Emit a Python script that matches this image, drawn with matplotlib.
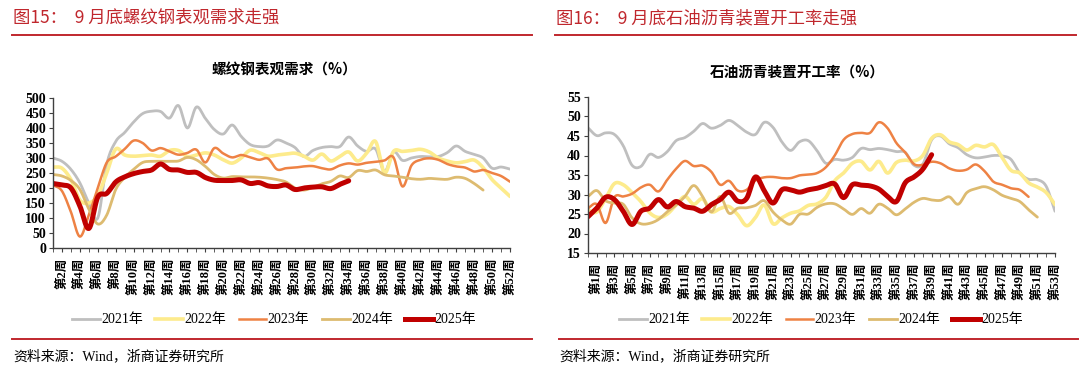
import numpy as np
import matplotlib
matplotlib.use("Agg")
import matplotlib.pyplot as plt
from matplotlib.lines import Line2D

plt.rcParams['font.family'] = ['Liberation Serif', 'Noto Sans CJK SC', 'DejaVu Sans']

# ---- left chart: rebar apparent demand, week 1..52
steel_weeks = list(range(1, 53))
steel_2021 = [300, 289, 262, 217, 150, 100, 280, 355, 385, 420, 448, 456, 455, 433, 475, 400,
              470, 432, 395, 380, 410, 372, 345, 338, 340, 360, 350, 335, 305, 325, 335, 338,
              338, 370, 340, 322, 330, 255, 320, 292, 300, 305, 304, 305, 318, 340, 322, 312,
              300, 266, 270, 263]
steel_2022 = [270, 266, 228, 160, 150, 175, 250, 330, 310, 306, 308, 310, 306, 325, 325, 305,
              310, 317, 310, 294, 283, 300, 326, 318, 306, 310, 313, 316, 306, 293, 313, 290,
              305, 320, 290, 316, 355, 250, 322, 322, 325, 329, 320, 300, 290, 284, 288, 293,
              268, 228, 200, 172]
steel_2023 = [210, 190, 120, 38, 110, 200, 285, 305, 330, 358, 350, 325, 333, 322, 311, 317,
              328, 285, 333, 315, 302, 310, 302, 294, 298, 262, 266, 268, 272, 273, 266, 262,
              275, 282, 278, 284, 287, 292, 302, 205, 275, 294, 299, 294, 280, 272, 268, 255,
              260, 250, 240, 221]
steel_2024 = [245, 240, 225, 195, 130, 80, 110, 195, 235, 262, 285, 289, 289, 289, 290, 302,
              294, 272, 245, 233, 238, 237, 237, 236, 233, 228, 220, 200, 193, 202, 214, 222,
              240, 235, 258, 255, 260, 244, 240, 236, 231, 229, 232, 230, 229, 236, 232, 215,
              193]
steel_2025 = [215, 210, 200, 140, 65, 170, 182, 220, 237, 248, 255, 260, 280, 262, 260, 252,
              252, 235, 226, 225, 225, 227, 215, 218, 207, 205, 210, 195, 200, 203, 204, 198,
              212, 224]

# ---- right chart: asphalt plant operating rate, axis positions 0..53
asphalt_weeks = list(range(0, 54))
asphalt_2021 = [47.1, 45.1, 45.8, 45.4, 42.5, 37.5, 37.2, 40.3, 39.5, 41.0, 43.8, 44.6, 46.2, 48.2,
                47.0, 47.7, 49.0, 47.7, 46.0, 45.4, 48.5, 47.2, 43.5, 41.3, 43.5, 43.8, 41.2, 38.0,
                39.0, 38.8, 39.5, 41.8, 41.5, 41.8, 41.5, 41.0, 40.8, 37.5, 37.8, 44.0, 45.0, 43.0,
                42.0, 40.2, 39.4, 39.6, 40.0, 39.9, 39.0, 35.5, 33.9, 33.8, 32.1, 25.7]
asphalt_2022 = [26.0, 25.5, 29.0, 32.8, 32.5, 30.5, 28.2, 25.3, 24.1, 25.0, 27.3, 29.5, 27.5, 28.9,
                25.6, 26.4, 26.9, 24.8, 22.0, 24.1, 27.3, 22.5, 24.0, 25.2, 25.8, 27.2, 27.6, 29.3,
                33.5, 35.5, 38.0, 38.5, 36.3, 38.5, 35.5, 38.2, 38.8, 38.6, 40.0, 44.4, 45.3, 43.5,
                42.8, 41.4, 42.6, 42.2, 42.8, 39.5, 36.2, 35.5, 33.0, 31.9, 30.5, 27.4]
asphalt_2023 = [26.5, 27.5, 22.7, 29.3, 29.5, 30.2, 31.8, 32.5, 30.8, 33.8, 36.6, 38.6, 37.3, 37.4,
                35.8, 32.5, 33.5, 31.0, 31.2, 33.6, 34.4, 34.5, 34.2, 34.2, 34.9, 35.1, 35.5, 37.0,
                40.0, 44.0, 45.5, 45.8, 45.8, 48.5, 47.0, 43.2, 40.8, 37.8, 37.6, 38.4, 38.0, 36.7,
                36.1, 36.4, 37.7, 36.0, 33.3, 32.5, 31.6, 31.2, 29.4]
asphalt_2024 = [29.5, 31.0, 28.4, 27.8, 27.5, 24.0, 22.5, 22.6, 23.6, 25.6, 27.3, 29.5, 32.3, 29.5,
                25.5, 29.5, 25.2, 26.5, 26.6, 27.2, 28.4, 25.5, 23.5, 22.4, 24.9, 25.0, 26.7, 27.6,
                27.6, 26.3, 24.9, 26.4, 25.2, 27.5, 26.5, 24.8, 26.3, 28.0, 29.0, 28.6, 28.5, 29.4,
                27.5, 30.5, 31.5, 32.0, 31.2, 29.8, 29.0, 28.2, 26.1, 24.2]
asphalt_2025 = [24.3, 26.5, 29.3, 28.7, 25.7, 22.3, 25.7, 26.5, 28.7, 26.8, 28.2, 26.9, 26.5, 25.7,
                27.4, 28.7, 30.6, 28.3, 29.0, 34.5, 31.0, 27.8, 31.2, 31.2, 30.6, 31.2, 31.6, 32.3,
                32.7, 29.2, 32.5, 32.4, 32.2, 31.4, 29.5, 28.2, 33.0, 34.5, 36.5, 40.2]

year_labels = ['2021年', '2022年', '2023年', '2024年', '2025年']
colors = ['#BFBFBF', '#FDEB8C', '#EE8244', '#DDBB70', '#C00000']
widths = [2.0, 2.6, 1.8, 2.0, 3.6]

RED = '#C0272D'


def smooth(x, y, n=10):
    # catmull-rom, only for drawing (excel-like smoothed line)
    x = np.asarray(x, float)
    y = np.asarray(y, float)
    py = np.concatenate([[2 * y[0] - y[1]], y, [2 * y[-1] - y[-2]]])
    xs, ys = [], []
    t = np.linspace(0, 1, n, endpoint=False)
    for i in range(len(y) - 1):
        p0, p1, p2, p3 = py[i:i + 4]
        yy = 0.5 * ((2 * p1) + (-p0 + p2) * t + (2 * p0 - 5 * p1 + 4 * p2 - p3) * t ** 2
                    + (-p0 + 3 * p1 - 3 * p2 + p3) * t ** 3)
        xs.extend(x[i] + (x[i + 1] - x[i]) * t)
        ys.extend(yy)
    xs.append(x[-1])
    ys.append(y[-1])
    return xs, ys


def fx(px):
    return px / 1080


def fy(py):
    return 1 - py / 370


fig = plt.figure(figsize=(10.8, 3.7), dpi=100)

ax1 = fig.add_axes([fx(53), fy(248), fx(457), 150 / 370])
ax2 = fig.add_axes([fx(588), fy(253), fx(467), 156 / 370])

for ax, weeks, series, ylim, yticks, label_weeks in [
    (ax1, steel_weeks, [steel_2021, steel_2022, steel_2023, steel_2024, steel_2025],
     (0, 500), range(0, 501, 50), [w for w in steel_weeks if w % 2 == 0]),
    (ax2, asphalt_weeks, [asphalt_2021, asphalt_2022, asphalt_2023, asphalt_2024, asphalt_2025],
     (15, 55), range(15, 56, 5), [w for w in asphalt_weeks if w % 2 == 1]),
]:
    for vals, c, lw in zip(series, colors, widths):
        xs, ys = smooth(weeks[:len(vals)], vals)
        ax.plot(xs, ys, color=c, lw=lw, solid_capstyle='round', solid_joinstyle='round')
    ax.set_xlim(weeks[0], weeks[-1])
    ax.set_ylim(*ylim)
    ax.set_yticks(list(yticks))
    ax.set_yticklabels([str(v) for v in yticks], fontsize=10, fontweight='bold')
    ax.set_xticks(weeks, minor=True)
    ax.set_xticks(label_weeks)
    ax.set_xticklabels([f'第{w}周' for w in label_weeks], rotation=90, fontsize=9,
                       fontweight='bold', va='top', ha='center')
    ax.tick_params(axis='x', which='both', direction='out', length=3, color='#404040', pad=4)
    ax.tick_params(axis='y', direction='out', length=3, color='#404040', pad=2)
    for s in ['top', 'right']:
        ax.spines[s].set_visible(False)
    for s in ['left', 'bottom']:
        ax.spines[s].set_color('#404040')
        ax.spines[s].set_linewidth(1.0)

# headers
fig.text(fx(13), fy(18), '图15：  9 月底螺纹钢表观需求走强', color=RED, fontsize=12.5,
         va='center', ha='left', family=['Noto Sans CJK SC'])
fig.text(fx(556), fy(18), '图16：  9 月底石油沥青装置开工率走强', color=RED, fontsize=12.5,
         va='center', ha='left', family=['Noto Sans CJK SC'])
fig.add_artist(Line2D([fx(12), fx(532)], [fy(35), fy(35)], color=RED, lw=1.4))
fig.add_artist(Line2D([fx(555), fx(1076)], [fy(35), fy(35)], color=RED, lw=1.4))

fig.text(fx(284), fy(70), '螺纹钢表观需求（%）', fontsize=10.5, fontweight='bold',
         ha='center', va='center', family=['Noto Sans CJK SC'])
fig.text(fx(797), fy(72), '石油沥青装置开工率（%）', fontsize=10.5, fontweight='bold',
         ha='center', va='center', family=['Noto Sans CJK SC'])

# legends
handles = [Line2D([], [], color=c, lw=lw) for c, lw in zip(colors, widths)]
for cx in [274, 821]:
    fig.legend(handles, year_labels, loc='center', bbox_to_anchor=(fx(cx), fy(320)),
               ncol=5, frameon=False, fontsize=10, handlelength=2.0, handletextpad=0.1,
               columnspacing=0.9)

# bottom rules and source
fig.add_artist(Line2D([fx(12), fx(532)], [fy(339), fy(339)], color=RED, lw=1.4))
fig.add_artist(Line2D([fx(559), fx(1078)], [fy(339), fy(339)], color=RED, lw=1.4))
fig.text(fx(13), fy(356), '资料来源：Wind，浙商证券研究所', fontsize=10, va='center', ha='left')
fig.text(fx(559), fy(356), '资料来源：Wind，浙商证券研究所', fontsize=10, va='center', ha='left')

fig.savefig('out.png', dpi=100)
